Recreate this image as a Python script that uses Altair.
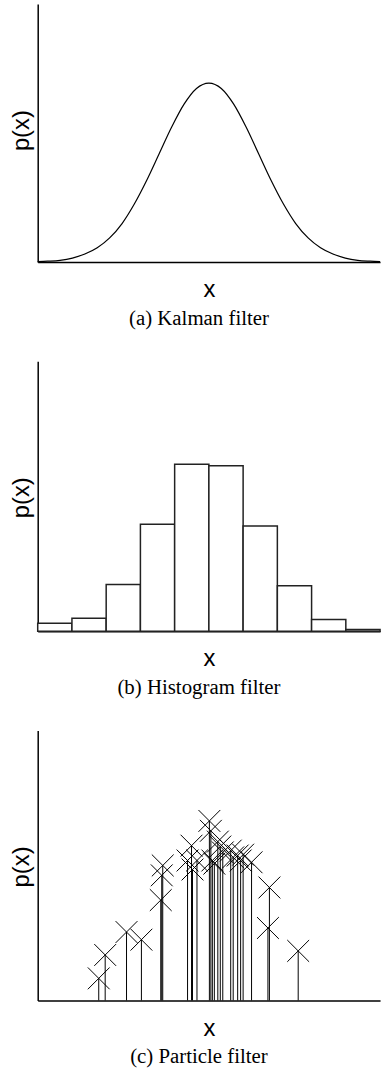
import altair as alt
import pandas as pd

# ---------------- data ----------------
# (a) Kalman filter: Gaussian density curve
kal_x = [-3.45, -3.25, -3.0, -2.75, -2.5, -2.25, -2.0, -1.75, -1.5, -1.25, -1.0, -0.75, -0.5, -0.25, 0.0,
         0.25, 0.5, 0.75, 1.0, 1.25, 1.5, 1.75, 2.0, 2.25, 2.5, 2.75, 3.0, 3.25, 3.45]
kal_p = [0.001, 0.002, 0.004, 0.009, 0.018, 0.032, 0.054, 0.086, 0.130, 0.183, 0.242, 0.301, 0.352, 0.387, 0.399,
         0.387, 0.352, 0.301, 0.242, 0.183, 0.130, 0.086, 0.054, 0.032, 0.018, 0.009, 0.004, 0.002, 0.001]

# (b) Histogram filter: 10 bins
hist_left = [-3.45, -2.76, -2.07, -1.38, -0.69, 0.0, 0.69, 1.38, 2.07, 2.76]
hist_right = [-2.76, -2.07, -1.38, -0.69, 0.0, 0.69, 1.38, 2.07, 2.76, 3.45]
hist_p = [0.018, 0.029, 0.104, 0.238, 0.371, 0.368, 0.234, 0.101, 0.026, 0.004]

# (c) Particle filter: particle positions and weights
part_x = [-2.22, -2.09, -1.66, -1.36, -0.97, -0.95, -0.93, -0.43, -0.35, -0.33, -0.24,
          0.01, 0.04, 0.07, 0.11, 0.18, 0.23, 0.28, 0.44, 0.49, 0.58, 0.64, 0.69, 0.86,
          1.19, 1.22, 1.80]
part_w = [0.049, 0.101, 0.152, 0.135, 0.223, 0.278, 0.300, 0.311, 0.344, 0.291, 0.311,
          0.399, 0.377, 0.311, 0.304, 0.353, 0.342, 0.329, 0.333, 0.318, 0.322, 0.311, 0.324, 0.307,
          0.161, 0.251, 0.110]

captions = ["(a) Kalman filter", "(b) Histogram filter", "(c) Particle filter"]

kal_df = pd.DataFrame({"x": kal_x, "p": kal_p})
hist_df = pd.DataFrame({"x0": hist_left, "x1": hist_right, "p": hist_p})
part_df = pd.DataFrame({"x": part_x, "w": part_w})

# ---------------- styling ----------------
W = 345
XDOM = [-3.45, 3.45]
SANS = "Liberation Sans"
SERIF = "Liberation Serif"


def xaxis():
    return alt.Axis(title="x", labels=False, ticks=False, grid=False,
                    titleX=W / 2, titleY=28, titleBaseline="middle", titleAlign="center",
                    titleFont=SANS, titleFontSize=24, titleFontWeight="normal", titleColor="black",
                    domainColor="black", domainWidth=1.5)


def yaxis(ty):
    return alt.Axis(title="p(x)", labels=False, ticks=False, grid=False,
                    titleX=-16, titleY=ty, titleAngle=270, titleBaseline="middle", titleAlign="center",
                    titleFont=SANS, titleFontSize=24, titleFontWeight="normal", titleColor="black",
                    domainColor="black", domainWidth=1.5)


def xscale():
    return alt.Scale(domain=XDOM, nice=False, zero=False)


def caption(text):
    return alt.TitleParams(text, orient="bottom", offset=6, dx=-10,
                           font=SERIF, fontSize=21, fontWeight="normal", color="black", anchor="middle")


# (a)
chart_a = alt.Chart(kal_df).mark_line(color="black", strokeWidth=1.2, interpolate="monotone").encode(
    x=alt.X("x:Q", scale=xscale(), axis=xaxis()),
    y=alt.Y("p:Q", scale=alt.Scale(domain=[0, 0.575], nice=False), axis=yaxis(127)),
).properties(width=W, height=260, title=caption(captions[0]))

# (b)
chart_b = alt.Chart(hist_df).mark_rect(fill="white", stroke="#222", strokeWidth=1.5).encode(
    x=alt.X("x0:Q", scale=xscale(), axis=xaxis()),
    x2="x1:Q",
    y=alt.Y("p:Q", scale=alt.Scale(domain=[0, 0.6], nice=False), axis=yaxis(137)),
    y2=alt.datum(0),
).properties(width=W, height=272, title=caption(captions[1]))

# (c)
rules = alt.Chart(part_df).mark_rule(color="black", strokeWidth=1).encode(
    x=alt.X("x:Q", scale=xscale(), axis=xaxis()),
    y=alt.Y("w:Q", scale=alt.Scale(domain=[0, 0.6], nice=False), axis=yaxis(137)),
    y2=alt.datum(0),
)
crosses = alt.Chart(part_df).mark_point(shape="M-1,-1L1,1M-1,1L1,-1", filled=False, size=484,
                                        color="black", strokeWidth=1, opacity=1).encode(
    x=alt.X("x:Q", scale=xscale(), axis=xaxis()),
    y=alt.Y("w:Q", scale=alt.Scale(domain=[0, 0.6], nice=False), axis=yaxis(137)),
)
chart_c = alt.layer(rules, crosses).properties(width=W, height=272, title=caption(captions[2]))

chart = alt.vconcat(chart_a, chart_b, chart_c, spacing=100, bounds="flush").properties(
    padding={"left": 10, "top": 0, "right": 5, "bottom": 0},
    background="white",
).configure_view(strokeWidth=0)

chart.save("out.html", embed_options={"renderer": "svg", "actions": False})
